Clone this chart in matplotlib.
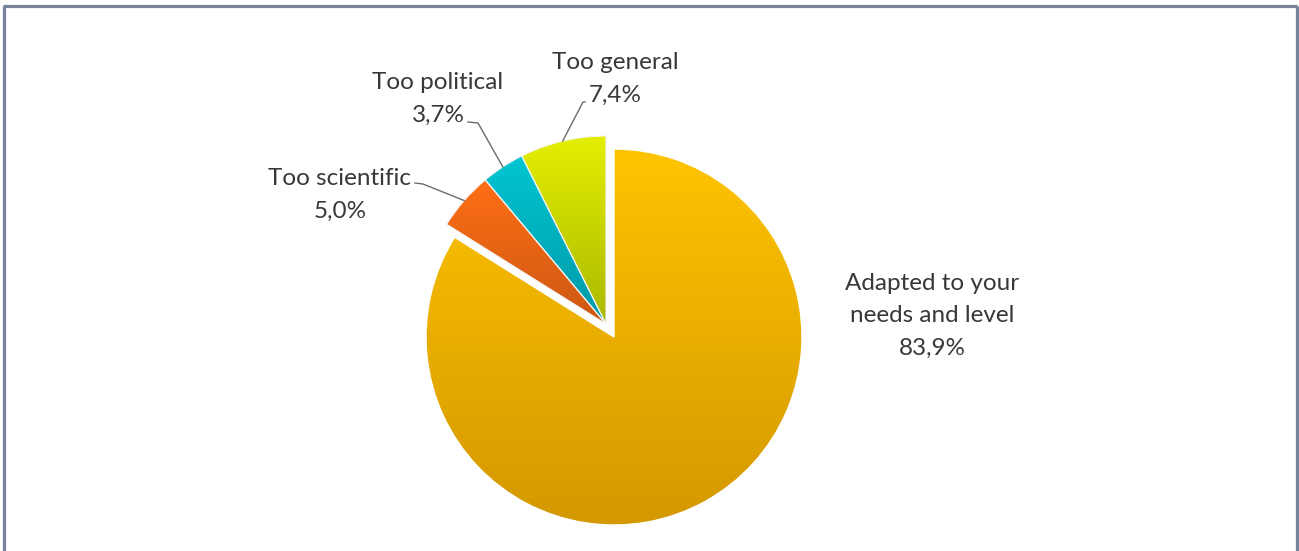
import numpy as np
import matplotlib
matplotlib.use("Agg")
import matplotlib.pyplot as plt
from matplotlib.colors import LinearSegmentedColormap

# survey answers
labels = ["Adapted to your\nneeds and level", "Too scientific", "Too political", "Too general"]
shares = [83.9, 5.0, 3.7, 7.4]
value_text = ["83,9%", "5,0%", "3,7%", "7,4%"]

# top / bottom colours of each slice gradient
top_colors = ["#FFC400", "#FF6E14", "#00C6D2", "#E4EF00"]
bottom_colors = ["#D49800", "#CC5814", "#0099A8", "#ABB800"]

W, H = 1299, 551
fig = plt.figure(figsize=(W / 100, H / 100), dpi=100)
ax = fig.add_axes([0, 0, 1, 1])

plt.rcParams['font.family'] = ['Lato', 'DejaVu Sans']

R = 188
main_center = (614, H - 337)
small_center = (606, H - 324)

frac = np.array(shares) / 100.0

# big slice, starting at 12 o'clock, clockwise
big, _ = ax.pie([frac[0]], normalize=False, startangle=90, counterclock=False,
                radius=R, center=main_center, frame=True,
                wedgeprops=dict(edgecolor="white", linewidth=1))
# the three small slices, pulled out as a group
start_small = 90 - 360 * frac[0]
small, _ = ax.pie(frac[1:], normalize=False, startangle=start_small, counterclock=False,
                  radius=R, center=small_center, frame=True,
                  wedgeprops=dict(edgecolor="#f4f4f4", linewidth=0.8))
wedges = list(big) + list(small)


def fill_gradient(w, c_top, c_bot):
    w.set_facecolor("none")
    bb = w.get_path().get_extents()
    cmap = LinearSegmentedColormap.from_list("g", [c_bot, c_top])
    grad = np.linspace(0, 1, 256).reshape(-1, 1)
    im = ax.imshow(grad, cmap=cmap, origin="lower", aspect="auto",
                   extent=(bb.x0, bb.x1, bb.y0, bb.y1), zorder=0.5)
    im.set_clip_path(w)


for w, ct, cb in zip(wedges, top_colors, bottom_colors):
    fill_gradient(w, ct, cb)

text_kw = dict(ha="center", va="center", fontsize=17.5, color="#383838", linespacing=1.65)

# main label, no leader
ax.text(932, H - 316, labels[0] + "\n" + value_text[0], **text_kw)

# small slice labels with leader lines to the slice edge
label_pos = {1: (340, 195), 2: (438, 99), 3: (615, 79)}
leader_start = {1: [(415, 183), (423, 184)], 2: [(468, 122), (478, 123)], 3: [(585, 102), (583, 102)]}
for i in (1, 2, 3):
    w = wedges[i]
    mid = np.deg2rad((w.theta1 + w.theta2) / 2)
    ex = small_center[0] + R * np.cos(mid)
    ey = small_center[1] + R * np.sin(mid)
    (x0, y0), (x1, y1) = leader_start[i]
    ax.plot([x0, x1, ex], [H - y0, H - y1, ey], color="#6a6a6a", lw=1, zorder=3)
    lx, ly = label_pos[i]
    ax.text(lx, H - ly, labels[i] + "\n" + value_text[i], **text_kw)

# outer frame
frame_kw = dict(color="#76839A", lw=2.3, clip_on=False, solid_capstyle="butt")
ax.plot([4.5, 4.5], [-5, H - 6], **frame_kw)
ax.plot([3.5, 1297.5], [H - 6, H - 6], **frame_kw)
ax.plot([1297, 1297], [-5, H - 6], **frame_kw)

ax.set_xlim(0, W)
ax.set_ylim(0, H)
ax.set_aspect("auto")
ax.axis("off")

plt.savefig("out.png", dpi=100)
